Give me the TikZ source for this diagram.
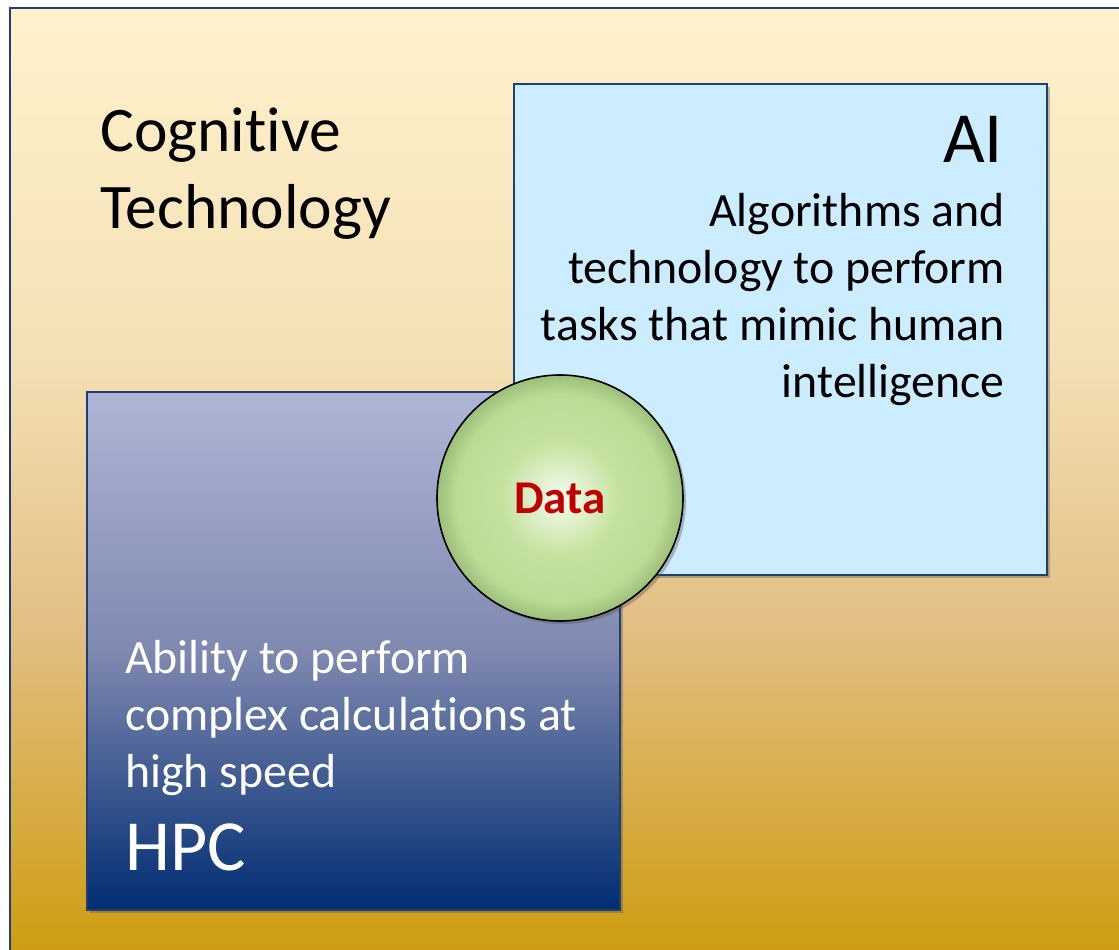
\documentclass[tikz,border=0pt]{standalone}
\usepackage{fontspec}
\setmainfont{Carlito}[Ligatures=NoCommon]
\usetikzlibrary{shadows}
\definecolor{frameCol}{HTML}{1F3F73}
\definecolor{bgTop}{HTML}{FFF2CC}
\definecolor{bgMid}{HTML}{F4E0B5}
\definecolor{bgLow}{HTML}{E2BE84}
\definecolor{bgBot}{HTML}{CC9A08}
\definecolor{aiCol}{HTML}{CCECFF}
\definecolor{hpcTop}{HTML}{AEB6D6}
\definecolor{hpcMid}{HTML}{7F89B0}
\definecolor{hpcBot}{HTML}{002C72}
\definecolor{dataIn}{HTML}{F6FBF0}
\definecolor{dataMid}{HTML}{C4E29F}
\definecolor{dataOut}{HTML}{9CBF78}
\definecolor{dataText}{HTML}{C00000}
\pgfdeclareverticalshading{cogShade}{100bp}{color(0bp)=(bgBot); color(25bp)=(bgBot); color(43bp)=(bgLow); color(57bp)=(bgMid); color(75bp)=(bgTop); color(100bp)=(bgTop)}
\pgfdeclareverticalshading{hpcShade}{100bp}{color(0bp)=(hpcBot); color(25bp)=(hpcBot); color(50bp)=(hpcMid); color(75bp)=(hpcTop); color(100bp)=(hpcTop)}
\pgfdeclareradialshading{dataShade}{\pgfpoint{0bp}{0bp}}{color(0bp)=(dataIn); color(12bp)=(dataMid); color(21bp)=(dataMid!80!dataOut); color(25bp)=(dataOut); color(50bp)=(dataOut)}

\begin{document}
\begin{tikzpicture}[
    x=1pt, y=-1pt,
    % Node styles
    panel/.style={
        rectangle,
        draw=#1,
        line width=1.6pt,
        anchor=north west,
        inner sep=0pt
    },
    boxshadow/.style={
        drop shadow={shadow xshift=3pt, shadow yshift=-3pt, opacity=0.35, fill=black!70}
    },
    label/.style={
        inner sep=0pt,
        text=#1
    },
    titlefont/.style={font=\fontsize{72}{86}\selectfont},
    bodyfont/.style={font=\fontsize{47.8}{57}\selectfont}
]
    \useasboundingbox (0,0) rectangle (1119,950);

    % ==== BACKGROUND ====
    \node[panel=frameCol, shade, shading=cogShade, minimum width=1140pt, minimum height=970pt] (frame) at (9,7) {};
    % base anchor sits on the last line
    \node[label=black, anchor=base west, align=left, font=\fontsize{63.5}{77}\selectfont] (cogtext) at (100,228) {Cognitive\\Technology};

    % ==== AI BOX ====
    \node[panel=frameCol, fill=aiCol, boxshadow, minimum width=533pt, minimum height=491pt] (aibox) at (513,83) {};
    \node[label=black, titlefont, anchor=base east] (aititle) at (1003,162) {AI};
    \node[label=black, bodyfont, anchor=base east, align=right] (aidesc) at (1005,397) {Algorithms and\\technology to perform\\tasks that mimic human\\intelligence};

    % ==== HPC BOX ====
    \node[panel=frameCol, shade, shading=hpcShade, boxshadow, minimum width=533pt, minimum height=518pt] (hpcbox) at (86,391) {};
    \node[label=white, bodyfont, anchor=base west, align=left] (hpcdesc) at (125,787) {Ability to perform\\complex calculations at\\high speed};
    \node[label=white, titlefont, anchor=base west] (hpctitle) at (125,870) {HPC};

    % ==== DATA ====
    \node[circle, draw=black, line width=1.6pt, shade, shading=dataShade, boxshadow, minimum size=246pt, inner sep=0pt,
        font=\fontsize{47}{57}\selectfont\bfseries, text=dataText] (data) at (560,498) {Data};

\end{tikzpicture}
\end{document}
